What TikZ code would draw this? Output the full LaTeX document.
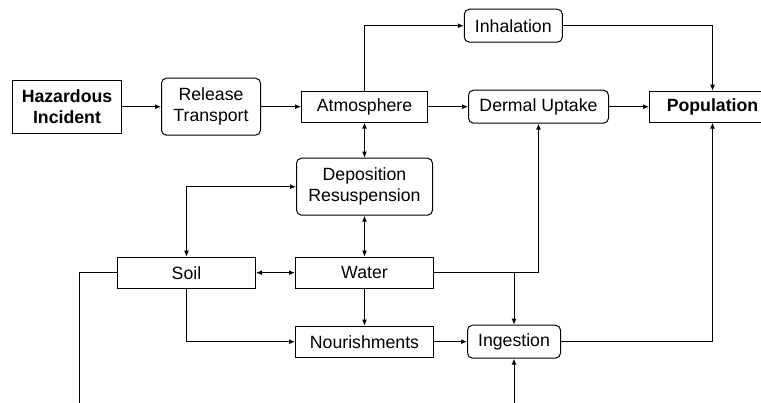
\documentclass[tikz,border=0pt]{standalone}
\usepackage{fontspec}
\setmainfont{Liberation Sans}
\usetikzlibrary{arrows.meta}
\usetikzlibrary{positioning}
\tikzstyle{box} = [draw, line width=1pt, inner sep=0pt, align=center, minimum height=31pt, font=\fontsize{17.7}{21}\selectfont]
\tikzstyle{roundbox} = [box, rounded corners=5pt]
\tikzstyle{arrow} = [line width=1pt,-{Latex[length=6pt,width=5pt]}]
\tikzstyle{darrow} = [line width=1pt,{Latex[length=6pt,width=5pt]}-{Latex[length=6pt,width=5pt]}]

\begin{document}
\begin{tikzpicture}[x=1pt,y=1pt]
\clip (0,0) rectangle (761,-403);
\node[box, minimum width=109pt, minimum height=53pt] (haz) at (67,-106.7) {\textbf{Hazardous}\\\textbf{Incident}};
\node[roundbox, minimum width=99pt, minimum height=57pt, right=39pt of haz] (rel) {Release\\Transport};
\node[box, minimum width=126pt, right=40pt of rel] (atm) {Atmosphere};
\node[roundbox, minimum width=140pt, minimum height=33pt, right=40pt of atm] (derm) {Dermal Uptake};
\node[box, minimum width=126pt, right=40pt of derm] (pop) {\textbf{Population}};
\node[roundbox, minimum width=98pt, minimum height=33pt] (inh) at (513.3,-25.7) {Inhalation};
\node[roundbox, minimum width=136pt, minimum height=57pt, below=35pt of atm] (dep) {Deposition\\Resuspension};
\node[box, minimum width=138pt, below=41pt of dep] (water) {Water};
\node[box, minimum width=138pt, left=39pt of water] (soil) {Soil};
\node[box, minimum width=138pt, below=37pt of water] (nour) {Nourishments};
\node[roundbox, minimum width=93pt, minimum height=33pt, right=33pt of nour] (ing) {Ingestion};
\coordinate (bottom) at (0,-403);
\coordinate (soilout) at (79,-403);
\coordinate (ingin) at (ing |- bottom);

% main chain
\draw[arrow] (haz) -- (rel);
\draw[arrow] (rel) -- (atm);
\draw[arrow] (atm) -- (derm);
\draw[arrow] (derm) -- (pop);
\draw[arrow] (atm.north) |- (inh);
\draw[arrow] (inh) -| (pop);
% exchange between media
\draw[darrow] (atm) -- (dep);
\draw[darrow] (dep) -- (water);
\draw[darrow] (soil) |- (dep);
\draw[darrow] (soil) -- (water);
\draw[arrow] (water) -- (nour);
\draw[arrow] (soil) |- (nour);
\draw[arrow] (nour) -- (ing);
\draw[arrow] (water) -| (derm);
\draw[arrow] (water) -| (ing);
\draw[arrow] (ing) -| (pop);
\draw[line width=1pt] (soil.west) -| (soilout);
\draw[arrow] (ingin) -- (ing);
\end{tikzpicture}
\end{document}
